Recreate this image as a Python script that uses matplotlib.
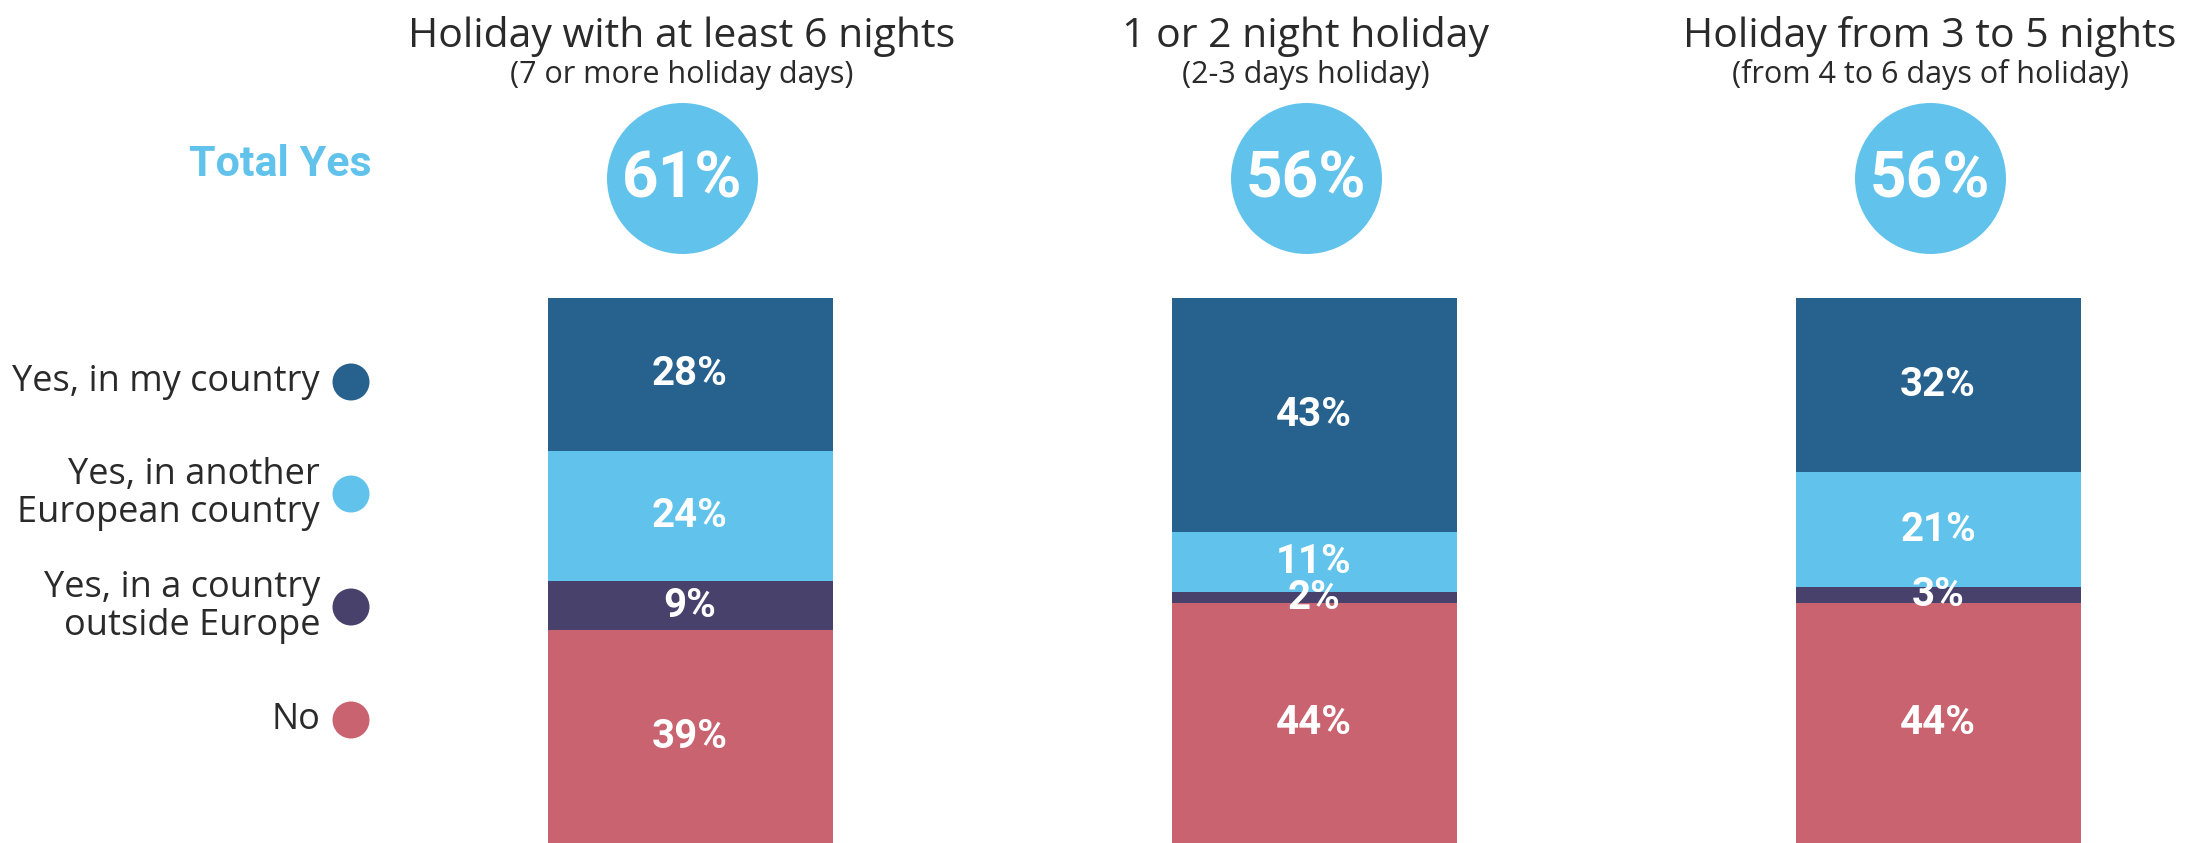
import matplotlib.pyplot as plt
import numpy as np

# holiday length categories (column headers)
titles = ["Holiday with at least 6 nights", "1 or 2 night holiday", "Holiday from 3 to 5 nights"]
subtitles = ["(7 or more holiday days)", "(2-3 days holiday)", "(from 4 to 6 days of holiday)"]

# answer categories, top to bottom in each stacked bar
answers = ["Yes, in my country", "Yes, in another\nEuropean country",
           "Yes, in a country\noutside Europe", "No"]
colors = ["#27628E", "#61C3EB", "#48416B", "#C8636F"]

# share of respondents (%) per answer, one list per holiday length
my_country = [28, 43, 32]
other_europe = [24, 11, 21]
outside_europe = [9, 2, 3]
no_holiday = [39, 44, 44]

series = [my_country, other_europe, outside_europe, no_holiday]
total_yes = np.sum(series[:3], axis=0)

W, H = 2193, 843
fig = plt.figure(figsize=(W / 100, H / 100), dpi=100)

title_font = "Open Sans"
num_font = "Roboto"
text_col = "#2a2a2a"

# stacked bars: y runs 0..100 downwards from the top of the bars
bar_top = 298
ax = fig.add_axes([0, 0, 1, (H - bar_top) / H])
x = np.arange(len(titles))
spacing = 624
left_px = 690
ax.set_xlim(-left_px / spacing, (W - left_px) / spacing)
ax.set_ylim(100, 0)
ax.axis("off")

bottom = np.zeros(len(titles))
for vals, col in zip(series, colors):
    vals = np.array(vals)
    ax.bar(x, vals, bottom=bottom, width=285 / spacing, color=col, align="center")
    for xi, v, b in zip(x, vals, bottom):
        ax.text(xi, b + v / 2, f"{v}%", ha="center", va="center", color="white",
                fontsize=29, fontweight="bold", family=num_font)
    bottom += vals

# overlay in pixel coordinates for headers, circles and legend
ov = fig.add_axes([0, 0, 1, 1], zorder=-1)
ov.set_xlim(0, W)
ov.set_ylim(H, 0)
ov.axis("off")

centers = left_px + x * spacing - 8
ov.scatter(centers, np.full(len(x), 178), s=(151 * 0.72) ** 2, color="#61C3EB",
           linewidths=0)
for cx, t, st, tot in zip(centers, titles, subtitles, total_yes):
    ov.text(cx, 47, t, ha="center", va="baseline", fontsize=29.5, color=text_col,
            family=title_font)
    ov.text(cx, 83, st, ha="center", va="baseline", fontsize=22, color=text_col,
            family=title_font)
    ov.text(cx, 180, f"{tot}%", ha="center", va="center", fontsize=46,
            fontweight="bold", color="white", family=num_font)

ov.text(372, 164, "Total Yes", ha="right", va="center", fontsize=31,
        fontweight="bold", color="#61C3EB", family=num_font)

# legend on the left
legend_y = [382, 494, 607, 720]
ov.scatter(np.full(4, 351), legend_y, s=(37 * 0.72) ** 2, color=colors, linewidths=0)
for ly, lab in zip(legend_y, answers):
    ov.text(320, ly, lab, ha="right", va="center", multialignment="right",
            fontsize=26, color=text_col, family=title_font, linespacing=1.05)

fig.savefig("out.png", dpi=100)
